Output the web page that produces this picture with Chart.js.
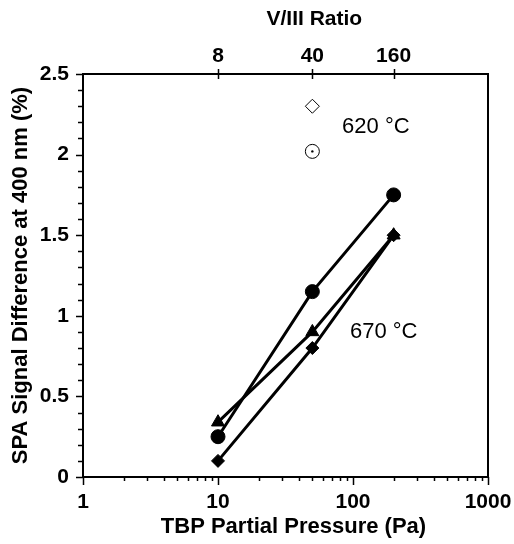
<!DOCTYPE html>
<html>
<head>
<meta charset="utf-8">
<script src="https://cdn.jsdelivr.net/npm/chart.js@4.4.1/dist/chart.umd.min.js"></script>
<style>
  html, body { margin: 0; padding: 0; background: #fff; }
  #wrap { width: 514px; height: 544px; }
</style>
</head>
<body>
<div id="wrap"><canvas id="chartMain" width="514" height="544"></canvas></div>
<script>
// ---- data
const pressure = [10, 50, 200];            // TBP partial pressure (Pa)
const circle670 = [0.25, 1.15, 1.75];
const triangle670 = [0.34, 0.9, 1.5];
const diamond670 = [0.1, 0.8, 1.5];
const pressure620 = [50];
const diamond620 = [2.3];
const circle620 = [2.02];
const xTicks = [1, 10, 100, 1000];
const ratioTicks = [8, 40, 160];           // V/III ratio (top axis)
const ratioPerPa = 0.8;
const notes = [
  { text: '620 °C', x: 83, y: 2.17 },
  { text: '670 °C', x: 95, y: 0.9 }
];

function pts(xs, ys){
  return xs.map((x, i) => ({ x: x, y: ys[i] }));
}

const FAMILY = 'Liberation Sans, Arial, sans-serif';
const tickFont = { family: FAMILY, size: 21, weight: 'bold' };
const titleFont = { family: FAMILY, size: 22, weight: 'bold' };

//---- ticks, frame, titles and notes
const decorPlugin = {
  id: 'decor',
  afterDatasetsDraw(chart){
    const ctx = chart.ctx, a = chart.chartArea;
    const sx = chart.scales.x, sy = chart.scales.y, st = chart.scales.xTop;
    ctx.save();
    ctx.strokeStyle = '#000';
    ctx.lineWidth = 2;
    ctx.strokeRect(a.left, a.top, a.right - a.left, a.bottom - a.top);
    ctx.lineWidth = 1.5;
    ctx.beginPath();
    for (let i = 0; i <= 25; i++) {
      const py = Math.round(sy.getPixelForValue(i / 10)) + 0.5;
      const len = (i % 5 === 0) ? 7 : 5;
      ctx.moveTo(a.left, py); ctx.lineTo(a.left - len, py);
    }
    for (let d = 1; d <= 1000; d *= 10) {
      for (let m = 1; m <= 9; m++) {
        const v = d * m;
        if (v > 1000) break;
        const px = Math.round(sx.getPixelForValue(v)) + 0.5;
        const len = (m === 1) ? 8 : 4;
        ctx.moveTo(px, a.bottom); ctx.lineTo(px, a.bottom + len);
      }
    }
    ratioTicks.forEach(r => {
      const px = Math.round(st.getPixelForValue(r)) + 0.5;
      ctx.moveTo(px, a.top - 5); ctx.lineTo(px, a.top + 5);
    });
    ctx.stroke();

    ctx.fillStyle = '#000';
    ctx.textBaseline = 'middle';
    ctx.textAlign = 'center';
    ctx.font = 'bold 21px ' + FAMILY;
    ctx.fillText('V/III Ratio', st.getPixelForValue(40) + 2, 19);
    ctx.font = 'bold 22px ' + FAMILY;
    ctx.fillText('TBP Partial Pressure (Pa)', (a.left + a.right) / 2 + 8, 527);

    ctx.textAlign = 'left';
    ctx.font = '22px ' + FAMILY;
    notes.forEach(n => {
      ctx.fillText(n.text, sx.getPixelForValue(n.x), sy.getPixelForValue(n.y));
    });
    ctx.restore();
  }
};

function lineSet(data, style, radius){
  return {
    data: data, showLine: true, borderColor: '#000', borderWidth: 3,
    pointStyle: style, pointRadius: radius, pointBackgroundColor: '#000',
    pointBorderColor: '#000', pointBorderWidth: 1, clip: false
  };
}
function openSet(data, style, radius){
  return {
    data: data, showLine: false, pointStyle: style, pointRadius: radius,
    pointBackgroundColor: '#fff', pointBorderColor: '#000', pointBorderWidth: 1, clip: false
  };
}

let chart1;
function drawChart(){
  const ctx = document.getElementById('chartMain').getContext('2d');
  if (chart1) chart1.destroy();
  chart1 = new Chart(ctx, {
    type: 'scatter',
    data: {
      datasets: [
        lineSet(pts(pressure, circle670), 'circle', 7),
        lineSet(pts(pressure, triangle670), 'triangle', 7.5),
        lineSet(pts(pressure, diamond670), 'rectRot', 6.5),
        openSet(pts(pressure620, diamond620), 'rectRot', 7),
        openSet(pts(pressure620, circle620), 'circle', 7),
        { data: pts(pressure620, circle620), pointRadius: 1.2, pointBackgroundColor: '#000',
          pointBorderColor: '#000', pointBorderWidth: 0, showLine: false, order: -1 }
      ]
    },
    plugins: [decorPlugin],
    options: {
      responsive: false,
      animation: false,
      layout: { padding: { left: 0, right: 26, top: 0, bottom: 0 } },
      plugins: { legend: { display: false }, tooltip: { enabled: false } },
      scales: {
        x: {
          type: 'logarithmic', position: 'bottom', min: 1, max: 1000,
          afterBuildTicks: s => { s.ticks = xTicks.map(v => ({ value: v })); },
          afterFit: s => { s.height = 67; s.paddingLeft = 0; s.paddingRight = 0; },
          grid: { display: false, drawTicks: false },
          border: { display: false },
          ticks: { color: '#000', font: tickFont, padding: 13, maxRotation: 0,
                   callback: v => String(v) }
        },
        xTop: {
          type: 'logarithmic', position: 'top', min: 1 * ratioPerPa, max: 1000 * ratioPerPa,
          afterBuildTicks: s => { s.ticks = ratioTicks.map(v => ({ value: v })); },
          afterFit: s => { s.height = 74; s.paddingLeft = 0; s.paddingRight = 0; },
          grid: { display: false, drawTicks: false },
          border: { display: false },
          ticks: { color: '#000', font: tickFont, padding: 5, maxRotation: 0,
                   callback: v => String(v) }
        },
        y: {
          min: 0, max: 2.5,
          afterFit: s => { s.width = 83; s.paddingTop = 0; s.paddingBottom = 0; },
          grid: { display: false, drawTicks: false },
          border: { display: false },
          ticks: { stepSize: 0.5, color: '#000', font: tickFont, padding: 14,
                   callback: v => String(v) },
          title: { display: true, text: 'SPA Signal Difference at 400 nm (%)', color: '#000',
                   font: titleFont, padding: { top: 8, bottom: 0 } }
        }
      }
    }
  });
}

window.onload = function(){
  drawChart();
};
</script>
</body>
</html>
